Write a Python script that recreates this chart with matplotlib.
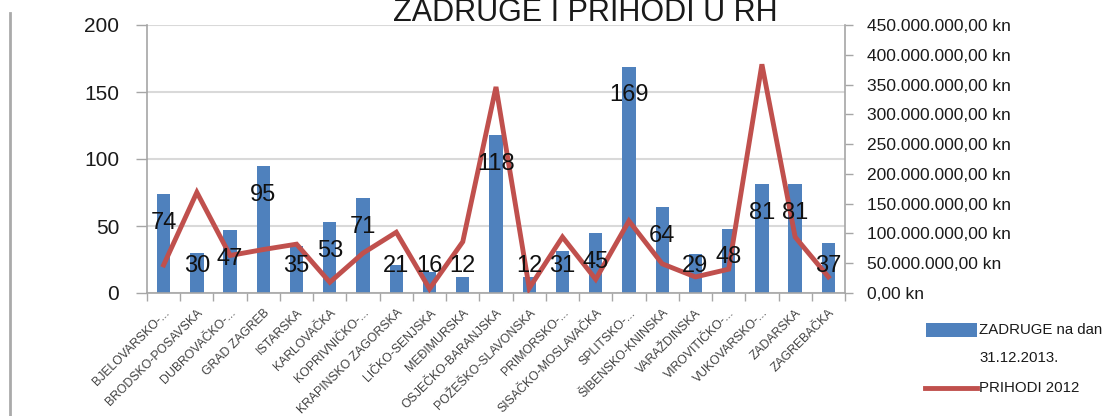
import matplotlib
matplotlib.use("Agg")
import matplotlib.pyplot as plt
from matplotlib.ticker import FixedLocator, FuncFormatter
from matplotlib.lines import Line2D
from matplotlib.patches import Rectangle
import numpy as np

plt.rcParams['font.family'] = ['Liberation Sans', 'DejaVu Sans']

categories = ["BJELOVARSKO-...", "BRODSKO-POSAVSKA", "DUBROVAČKO-...", "GRAD ZAGREB",
              "ISTARSKA", "KARLOVAČKA", "KOPRIVNIČKO-...", "KRAPINSKO ZAGORSKA",
              "LIČKO-SENJSKA", "MEĐIMURSKA", "OSJEČKO-BARANJSKA", "POŽEŠKO-SLAVONSKA",
              "PRIMORSKO-...", "SISAČKO-MOSLAVAČKA", "SPLITSKO-...", "ŠIBENSKO-KNINSKA",
              "VARAŽDINSKA", "VIROVITIČKO-...", "VUKOVARSKO-...", "ZADARSKA", "ZAGREBAČKA"]
zadruge = [74, 30, 47, 95, 35, 53, 71, 21, 16, 12, 118, 12, 31, 45, 169, 64, 29, 48, 81, 81, 37]
prihodi = [47e6, 169e6, 63e6, 73e6, 82e6, 18e6, 67e6, 102e6, 7e6, 86e6, 346e6, 8e6,
           94e6, 23e6, 121e6, 49e6, 27e6, 40e6, 384e6, 94e6, 27e6]
left_ticks = [0, 50, 100, 150, 200]
right_ticks = [0, 50e6, 100e6, 150e6, 200e6, 250e6, 300e6, 350e6, 400e6, 450e6]

BAR = '#4F81BD'
LINE = '#C0504D'
GRID = '#D9D9D9'
AXC = '#A6A6A6'

fig = plt.figure(figsize=(11.05, 4.16), dpi=100)
ax = fig.add_axes([147/1105, 1-293/416, (845-147)/1105, (293-25)/416])
x = np.arange(len(categories))

ax.bar(x, zadruge, width=0.4, color=BAR, zorder=2)
ax.set_xlim(-0.5, len(categories)-0.5)
ax.set_ylim(0, 200)
ax.yaxis.set_major_locator(FixedLocator(left_ticks))
ax.set_yticklabels([str(v) for v in left_ticks], fontsize=15, color='#1a1a1a')
ax.tick_params(axis='y', length=8, width=1, color=AXC, pad=12, direction='out')
ax.grid(axis='y', color=GRID, linewidth=1.5, zorder=0)
ax.set_axisbelow(True)

ax.set_xticks(x)
ax.set_xticklabels(categories, rotation=45, ha='right', rotation_mode='anchor',
                   fontsize=8.8, color='#404040')
ax.tick_params(axis='x', which='major', length=0, pad=10)
ax.set_xticks(np.arange(-0.5, len(categories)), minor=True)
ax.tick_params(axis='x', which='minor', length=6, width=1, color=AXC, direction='out')

for s in ['top', 'right']:
    ax.spines[s].set_visible(False)
for s in ['left', 'bottom']:
    ax.spines[s].set_color(AXC)
    ax.spines[s].set_linewidth(1.2)

ax2 = ax.twinx()
ax2.plot(x, prihodi, color=LINE, linewidth=3.5, zorder=4, solid_joinstyle='miter')
ax2.set_ylim(0, 450e6)
ax2.yaxis.set_major_locator(FixedLocator(right_ticks))

def fmt(v, pos):
    if v == 0:
        return '0,00 kn'
    m = int(round(v / 1e6))
    return f"{m}.000.000,00 kn"

ax2.yaxis.set_major_formatter(FuncFormatter(fmt))
ax2.tick_params(axis='y', length=6, width=1, color=AXC, labelsize=12.5, labelcolor='#1a1a1a', pad=10)
for s in ['top', 'left', 'bottom']:
    ax2.spines[s].set_visible(False)
ax2.spines['right'].set_color(AXC)
ax2.spines['right'].set_linewidth(1.2)
ax2.patch.set_visible(False)

# data labels on top of the line
for xi, v in zip(x, zadruge):
    ly = max(v - 21.5, 20)
    ax2.text(xi, ly, str(v), transform=ax.transData, ha='center', va='center',
             fontsize=17, color='#111111', zorder=6)

# title (cut off at top)
fig.text(585/1105, 1-21/416, "ZADRUGE I PRIHODI U RH", ha='center', va='baseline',
         fontsize=22, color='#1a1a1a')

# left frame line
fig.add_artist(Line2D([10/1105, 10/1105], [0, 1-13/416], color='#AAAAAA', linewidth=2,
                      transform=fig.transFigure))

# legend (drawn manually)
fig.add_artist(Rectangle((926/1105, 1-337/416), 51/1105, 14/416, facecolor=BAR,
                         edgecolor='none', transform=fig.transFigure))
fig.add_artist(Line2D([925/1105, 977/1105], [1-388/416, 1-388/416], color=LINE,
                      linewidth=3.5, transform=fig.transFigure))
legfont = dict(fontsize=10.8, color='#1a1a1a', ha='left', va='center')
fig.text(979/1105, 1-330/416, "ZADRUGE na dan", **legfont)
fig.text(979/1105, 1-358/416, "31.12.2013.", **legfont)
fig.text(979/1105, 1-388/416, "PRIHODI 2012", **legfont)

fig.savefig('out.png', dpi=100)
